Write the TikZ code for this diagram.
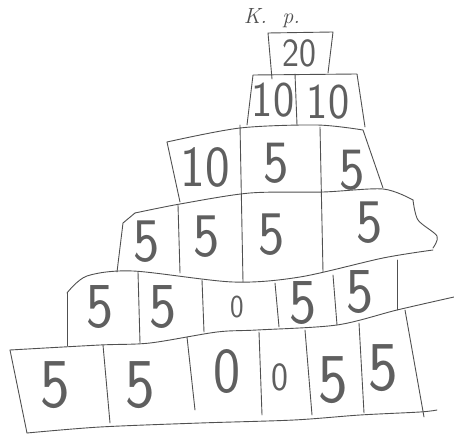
\documentclass[tikz,border=0pt]{standalone}
\usepackage{fontspec}
\definecolor{pencil}{RGB}{80,80,80}
\definecolor{lead}{RGB}{95,95,95}
\tikzset{
  ink/.style={draw=pencil, line width=0.9pt, line cap=round, line join=round},
  digit/.style={font=\sffamily\fontsize{#1}{#1}\selectfont, text=lead, inner sep=0pt, xscale=0.9},
  tag/.style={font=\itshape\fontsize{22}{22}\selectfont, text=pencil, inner sep=0pt},
}

\begin{document}
\begin{tikzpicture}[x=1pt, y=-1pt]
\useasboundingbox (0,0) rectangle (454,435);

% label on top
\node[tag] (title) at (272,18) {K. \ p.};

% row 1
\draw[ink] (272,79) -- (268,33) -- (333,32) -- (328,73);
% row 2
\draw[ink] (247,125) -- (253,75) -- (357,74) -- (365,127);
\draw[ink] (295,74) -- (297,125);
% row 3
\draw[ink] plot[smooth] coordinates {(180,202) (167,142)};
\draw[ink] plot[smooth] coordinates {(167,142) (240,128) (317,125) (363,130)};
\draw[ink] (363,130) -- (383,188);
\draw[ink] plot[smooth] coordinates {(135,213) (180,204) (250,193) (323,192) (383,189) (413,200)};
\draw[ink] (240,125) -- (243,282);
\draw[ink] (320,127) -- (323,272);
% row 4
\draw[ink] (117,272) -- (123,223) -- (135,213);
\draw[ink] plot[smooth] coordinates {(413,200) (418,220) (437,236) (433,248)};
\draw[ink] plot[smooth] coordinates {(67,293) (87,276) (133,271) (233,282) (300,277) (383,258) (433,250)};
\draw[ink] (178,205) -- (180,273);
% row 5
\draw[ink] (67,293) -- (67,346);
\draw[ink] (138,272) -- (140,343);
\draw[ink] (202,280) -- (204,332);
\draw[ink] (275,283) -- (279,327);
\draw[ink] (333,275) -- (337,325);
\draw[ink] (397,260) -- (397,310);
\draw[ink] plot[smooth] coordinates {(10,350) (100,345) (150,343) (217,332) (257,330) (337,325) (397,310) (454,297)};
% row 6
\draw[ink] (10,350) -- (27,433);
\draw[ink] plot[smooth] coordinates {(27,433) (100,427) (200,423) (294,420) (360,415) (420,412) (437,410)};
\draw[ink] (405,310) -- (424,417);
\draw[ink] (103,345) -- (110,423);
\draw[ink] (187,337) -- (195,410);
\draw[ink] (259,332) -- (262,415);
\draw[ink] (305,330) -- (312,415);
\draw[ink] (359,323) -- (364,413);

% numbers
\node[digit=40] (a1) at (299,53) {20};

\node[digit=50] (b1) at (273,100) {10};
\node[digit=50] (b2) at (328,102) {10};

\node[digit=58] (c1) at (205,167) {10};
\node[digit=60] (c2) at (276,163) {5};
\node[digit=60] (c3) at (352,170) {5};

\node[digit=62] (d1) at (147,242) {5};
\node[digit=62] (d2) at (207,237) {5};
\node[digit=62] (d3) at (272,235) {5};
\node[digit=62] (d4) at (370,223) {5};

\node[digit=64] (e1) at (100,307) {5};
\node[digit=64] (e2) at (163,307) {5};
\node[digit=32] (e3) at (237,307) {0};
\node[digit=64] (e4) at (303,303) {5};
\node[digit=64] (e5) at (360,292) {5};

\node[digit=70] (f1) at (55,385) {5};
\node[digit=70] (f2) at (140,385) {5};
\node[digit=64] (f3) at (227,372) {0};
\node[digit=40] (f4) at (280,377) {0};
\node[digit=70] (f5) at (333,380) {5};
\node[digit=70] (f6) at (383,368) {5};
\end{tikzpicture}
\end{document}
